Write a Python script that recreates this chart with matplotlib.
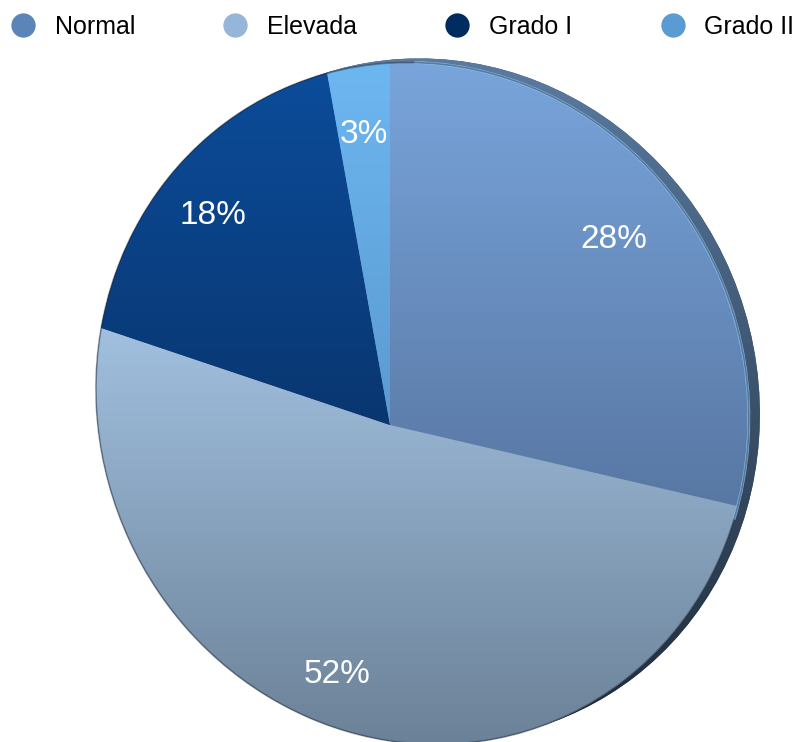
"""Distribución de presión arterial: pastel inclinado con sombreado."""

import numpy as np
import matplotlib
matplotlib.use("Agg")
import matplotlib.pyplot as plt
from matplotlib import transforms as mtransforms
from matplotlib.colors import LinearSegmentedColormap
from matplotlib.lines import Line2D
from matplotlib.patches import PathPatch
from matplotlib.path import Path

# ---------- datos ----------
categories = ["Normal", "Elevada", "Grado I", "Grado II"]
percentages = [28, 52, 18, 3]

# colores de leyenda y degradado (arriba / abajo) de cada porción
legend_colors = ["#5b84b8", "#95b6d9", "#022b62", "#5b9bd3"]
shade_top = ["#79a5dc", "#a1c0df", "#0c4c9a", "#6db7f1"]
shade_bottom = ["#5877a3", "#6b8197", "#093670", "#5b9ad0"]

W, H = 806, 742
CX, CY = 390, 425
FONT = "Liberation Sans"


class TiltTransform(mtransforms.Transform):
    """Proyección en perspectiva del disco unitario a píxeles."""
    input_dims = 2
    output_dims = 2

    def __init__(self, a=322.5, d=17.0, e=-337.4, g=-0.099, h=-0.068):
        super().__init__()
        self.a, self.d, self.e, self.g, self.h = a, d, e, g, h

    def transform_non_affine(self, values):
        xy = np.asarray(values, dtype=float)
        u, v = xy[..., 0], xy[..., 1]
        w = 1.0 + self.g * u + self.h * v
        return np.stack([self.a * u / w, (self.d * u + self.e * v) / w], axis=-1)


def tilt_at(dx=0.0, dy=0.0):
    return TiltTransform() + mtransforms.Affine2D().translate(CX + dx, CY + dy)


def add_gradient(ax, patch, data_tf, top, bottom, zorder):
    verts = data_tf.transform(patch.get_path().vertices)
    x0, x1 = verts[:, 0].min(), verts[:, 0].max()
    y0, y1 = verts[:, 1].min(), verts[:, 1].max()
    cmap = LinearSegmentedColormap.from_list("shade", [top, bottom])
    grad = np.linspace(0, 1, 256).reshape(-1, 1)
    im = ax.imshow(grad, cmap=cmap, extent=(x0, x1, y1, y0), origin="upper",
                   aspect="auto", interpolation="bilinear", zorder=zorder)
    im.set_clip_path(patch)
    return im


fig = plt.figure(figsize=(W / 100, H / 100), dpi=100)
ax = fig.add_axes([0, 0, 1, 1])

wedges, _ = ax.pie(percentages, startangle=90, counterclock=False, radius=1.0)

face_tf = tilt_at()

# canto del disco (visible a la derecha)
rim_tf = tilt_at(11, -4)
rim = PathPatch(Path.unit_circle(), transform=rim_tf + ax.transData,
                facecolor="#34495f", edgecolor="none", zorder=1)
ax.add_patch(rim)
add_gradient(ax, rim, rim_tf, "#5a7ba2", "#1d2936", zorder=1.2)

# fondo de la cara para tapar uniones entre porciones
base = PathPatch(Path.unit_circle(), transform=face_tf + ax.transData,
                 facecolor="#6a8cb5", edgecolor="none", zorder=1.5)
ax.add_patch(base)

for w, top, bottom in zip(wedges, shade_top, shade_bottom):
    w.set_transform(face_tf + ax.transData)
    w.set_facecolor(bottom)
    w.set_edgecolor("none")
    w.set_zorder(2)
    add_gradient(ax, w, face_tf, top, bottom, zorder=2.5)

# brillo en el borde superior derecho y sombra del contorno
ax.add_patch(PathPatch(Path.arc(-12, 86), transform=face_tf + ax.transData,
                       fill=False, edgecolor="#8fc5f6", linewidth=2.0,
                       alpha=0.9, zorder=3))
ax.add_patch(PathPatch(Path.unit_circle(), transform=face_tf + ax.transData,
                       fill=False, edgecolor="#1d2833", linewidth=1.2,
                       alpha=0.45, zorder=3))

# etiquetas de porcentaje
for w, pct in zip(wedges, percentages):
    mid = np.deg2rad((w.theta1 + w.theta2) / 2)
    ax.text(0.82 * np.cos(mid), 0.82 * np.sin(mid), f"{pct}%",
            transform=face_tf + ax.transData, ha="center", va="center",
            color="white", fontsize=24, family=FONT, zorder=4)

ax.set_xlim(0, W)
ax.set_ylim(H, 0)
ax.set_aspect("auto")
ax.axis("off")

handles = [Line2D([], [], marker="o", linestyle="none", markersize=17.5,
                  markerfacecolor=c, markeredgecolor="none")
           for c in legend_colors]
fig.legend(handles, categories, loc="center left",
           bbox_to_anchor=(10.5 / W, 1 - 27 / H), bbox_transform=fig.transFigure,
           ncol=4, frameon=False, prop={"family": FONT, "size": 18},
           handlelength=1.0, handletextpad=0.78, columnspacing=3.5,
           borderpad=0, borderaxespad=0)

fig.savefig("out.png", dpi=100)
